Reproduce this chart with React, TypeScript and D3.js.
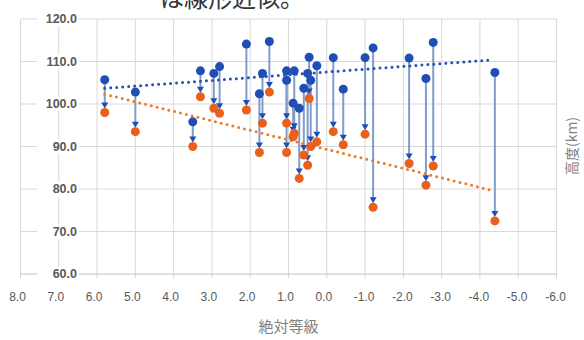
import React, { useRef, useEffect } from 'react';
import * as d3 from 'd3';

// absolute magnitude of each meteor
const magnitudes = [5.8, 5.0, 3.5, 3.3, 2.95, 2.8, 2.1, 1.5, 1.68, 1.76, 1.05, 1.05, 0.85, 0.88, 0.72, 0.6, 0.46, 0.5, 0.42, 0.26, -0.17, -0.43, -1.0, -1.21, -2.15, -2.59, -2.78, -4.39];
// start height (km)
const startHeights = [105.7, 102.8, 95.8, 107.8, 107.2, 108.8, 114.1, 114.7, 107.2, 102.4, 107.8, 105.6, 107.8, 100.2, 99.0, 103.7, 111.0, 107.2, 105.6, 109.0, 110.9, 103.5, 110.9, 113.2, 110.8, 106.0, 114.5, 107.4];
// end height (km)
const endHeights = [98.0, 93.5, 90.0, 101.7, 99.0, 97.8, 98.6, 102.8, 95.5, 88.6, 95.5, 88.6, 93.1, 92.3, 82.5, 88.0, 101.3, 85.6, 90.0, 91.1, 93.5, 90.4, 92.9, 75.7, 86.0, 80.9, 85.4, 72.5];

// linear fit end points [magnitude, height]
const startTrend = [[5.8, 103.7], [-4.35, 110.4]];
const endTrend = [[5.8, 102.3], [-4.35, 79.6]];

const xTicks = [8, 7, 6, 5, 4, 3, 2, 1, 0, -1, -2, -3, -4, -5, -6];
const yTicks = [60, 70, 80, 90, 100, 110, 120];

const App = () => {
  const svgRef = useRef(null);

  useEffect(() => {
    const width = 584;
    const height = 340;
    const svg = d3.select(svgRef.current);
    svg.selectAll('*').remove();

    const x = d3.scaleLinear().domain([8, -6]).range([20.5, 556.5]);
    const y = d3.scaleLinear().domain([60, 120]).range([274, 19]);

    const gray = '#595959';
    const gridColor = '#d9d9d9';

    // caption cut off at the top
    svg.append('text')
      .attr('x', 160)
      .attr('y', 7)
      .attr('font-family', '"Noto Sans CJK JP", sans-serif')
      .attr('font-size', 24)
      .attr('fill', '#333')
      .text('は線形近似。');

    // grid
    svg.append('g')
      .selectAll('line')
      .data(xTicks)
      .join('line')
      .attr('x1', d => x(d))
      .attr('x2', d => x(d))
      .attr('y1', y(120))
      .attr('y2', y(60) + 4)
      .attr('stroke', gridColor)
      .attr('stroke-width', 1);

    svg.append('g')
      .selectAll('line')
      .data(yTicks)
      .join('line')
      .attr('x1', x(8))
      .attr('x2', x(-6))
      .attr('y1', d => y(d))
      .attr('y2', d => y(d))
      .attr('stroke', d => (d === 60 ? '#bfbfbf' : gridColor))
      .attr('stroke-width', 1);

    // y labels sit inside the plot with a white box
    const yLab = svg.append('g');
    yLab.selectAll('rect')
      .data(yTicks)
      .join('rect')
      .attr('x', 37)
      .attr('y', d => y(d) - 7)
      .attr('width', 42)
      .attr('height', 14)
      .attr('fill', '#fff');
    yLab.selectAll('text')
      .data(yTicks)
      .join('text')
      .attr('x', 77)
      .attr('y', d => y(d))
      .attr('dy', '0.35em')
      .attr('text-anchor', 'end')
      .attr('font-family', '"Liberation Sans", Arial, sans-serif')
      .attr('font-size', 12.5)
      .attr('font-weight', 'bold')
      .attr('fill', gray)
      .text(d => d.toFixed(1));

    // x labels
    svg.append('g')
      .selectAll('text')
      .data(xTicks)
      .join('text')
      .attr('x', d => x(d) - (d < 0 ? 1 : 3))
      .attr('y', 297)
      .attr('dy', '0.35em')
      .attr('text-anchor', 'middle')
      .attr('font-family', '"Liberation Sans", Arial, sans-serif')
      .attr('font-size', 12)
      .attr('fill', gray)
      .text(d => d.toFixed(1));

    // axis titles
    svg.append('text')
      .attr('x', (x(8) + x(-6)) / 2)
      .attr('y', 327)
      .attr('dy', '0.35em')
      .attr('text-anchor', 'middle')
      .attr('font-family', '"Noto Sans CJK JP", sans-serif')
      .attr('font-size', 15)
      .attr('fill', '#7f7f7f')
      .text('絶対等級');

    svg.append('text')
      .attr('transform', `translate(572, 146) rotate(-90)`)
      .attr('dy', '0.35em')
      .attr('text-anchor', 'middle')
      .attr('font-family', '"Noto Sans CJK JP", sans-serif')
      .attr('font-size', 14)
      .attr('fill', '#7f7f7f')
      .text('高度(km)');

    const meteors = magnitudes.map((m, i) => ({ m, start: startHeights[i], end: endHeights[i] }));

    const blue = '#1f4fb5';
    const orange = '#e8601c';

    // connectors with arrow heads
    const conn = svg.append('g');
    conn.selectAll('line')
      .data(meteors)
      .join('line')
      .attr('x1', d => x(d.m))
      .attr('x2', d => x(d.m))
      .attr('y1', d => y(d.start))
      .attr('y2', d => y(d.end) - 9)
      .attr('stroke', '#7f9ccc')
      .attr('stroke-width', 2);
    conn.selectAll('path')
      .data(meteors)
      .join('path')
      .attr('d', d => {
        const cx = x(d.m);
        const tip = y(d.end) - 4;
        return `M${cx - 3.5},${tip - 6}L${cx + 3.5},${tip - 6}L${cx},${tip}Z`;
      })
      .attr('fill', blue);

    // trend lines
    const line = d3.line().x(d => x(d[0])).y(d => y(d[1]));
    [[startTrend, '#2a4fb0'], [endTrend, '#ea7a2c']].forEach(([pts, color]) => {
      svg.append('path')
        .attr('d', line(pts))
        .attr('fill', 'none')
        .attr('stroke', color)
        .attr('stroke-width', 3)
        .attr('stroke-linecap', 'round')
        .attr('stroke-dasharray', '0 6');
    });

    svg.append('g')
      .selectAll('circle')
      .data(meteors)
      .join('circle')
      .attr('cx', d => x(d.m))
      .attr('cy', d => y(d.start))
      .attr('r', 4.5)
      .attr('fill', blue);

    svg.append('g')
      .selectAll('circle')
      .data(meteors)
      .join('circle')
      .attr('cx', d => x(d.m))
      .attr('cy', d => y(d.end))
      .attr('r', 4.5)
      .attr('fill', orange);

    svg.attr('width', width).attr('height', height);
  }, []);

  return (
    <svg ref={svgRef} style={{ position: 'absolute', left: 0, top: 0, background: '#fff' }}></svg>
  );
};

export default App;
